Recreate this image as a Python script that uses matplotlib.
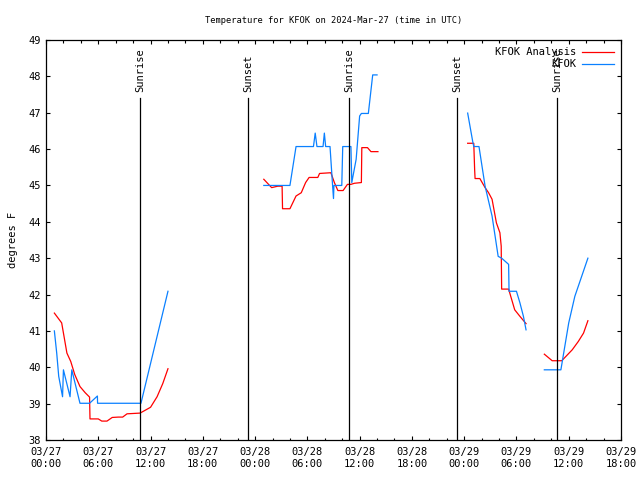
import numpy as np
import matplotlib
matplotlib.use('Agg')
import matplotlib.pyplot as plt

plt.rcParams['font.family'] = 'DejaVu Sans Mono'
plt.rcParams['font.size'] = 7.5

# -------- DATA (hours since 2024-03-27 00:00 UTC, deg F) ----------
# KFOK Analysis, one list per continuous segment
ana_hours = [
    [0.96, 1.8, 2.4, 2.84, 3.3, 3.9, 4.5, 5.0, 5.05, 6.0, 6.4, 7.0, 7.6, 8.3,
     8.8, 9.3, 10.8, 12.0, 12.75, 13.4, 14.0],
    [25.0, 25.9, 26.6, 27.1, 27.15, 28.0, 28.7, 29.3, 29.8, 30.2, 31.2, 31.4,
     32.7, 33.1, 33.5, 34.1, 34.6, 35.0, 35.4, 36.2, 36.25, 36.9, 37.3, 38.1],
    [48.4, 49.1, 49.2, 49.25, 49.8, 50.4, 50.8, 51.2, 51.7, 52.1, 52.25, 52.3,
     53.1, 53.8, 54.4, 55.1],
    [57.2, 58.1, 59.2, 59.6, 60.4, 61.1, 61.7, 62.2],
]
ana_temps = [
    [41.49, 41.22, 40.39, 40.16, 39.8, 39.47, 39.3, 39.18, 38.58, 38.58, 38.52,
     38.52, 38.62, 38.63, 38.63, 38.72, 38.74, 38.9, 39.19, 39.55, 39.96],
    [45.17, 44.94, 44.98, 44.98, 44.36, 44.36, 44.71, 44.8, 45.08, 45.22, 45.22,
     45.33, 45.35, 45.08, 44.86, 44.86, 45.03, 45.03, 45.06, 45.08, 46.04, 46.04,
     45.93, 45.93],
    [46.16, 46.16, 45.44, 45.19, 45.19, 44.94, 44.8, 44.62, 43.97, 43.7, 43.33,
     42.15, 42.15, 41.58, 41.4, 41.2],
    [40.36, 40.18, 40.18, 40.28, 40.48, 40.71, 40.94, 41.28],
]

# KFOK observations
obs_hours = [
    [0.96, 1.23, 1.46, 1.9, 2.0, 2.76, 2.96, 3.9, 5.0, 5.9, 5.92, 10.9, 14.0],
    [25.0, 28.0, 28.7, 30.7, 30.9, 31.1, 31.8, 31.95, 32.1, 32.6, 32.9, 33.0,
     33.05, 33.95, 34.06, 35.0, 35.1, 35.6, 36.0, 36.2, 37.0, 37.5, 38.0],
    [48.4, 49.0, 49.1, 49.7, 50.4, 51.2, 51.9, 52.3, 53.1, 53.15, 54.0, 54.4,
     54.8, 55.1],
    [57.2, 59.1, 60.0, 60.7, 62.2],
]
obs_temps = [
    [41.0, 40.39, 39.75, 39.19, 39.93, 39.19, 39.93, 39.01, 39.01, 39.21, 39.01,
     39.01, 42.09],
    [45.0, 45.0, 46.07, 46.07, 46.44, 46.07, 46.07, 46.44, 46.07, 46.07, 44.98,
     44.64, 45.0, 45.0, 46.07, 46.07, 45.08, 45.72, 46.91, 46.98, 46.98, 48.04,
     48.04],
    [46.99, 46.18, 46.07, 46.07, 44.98, 44.16, 43.05, 43.0, 42.83, 42.09, 42.09,
     41.77, 41.4, 41.03],
    [39.93, 39.93, 41.22, 41.95, 43.0],
]

event_hours = [10.8, 23.2, 34.8, 47.2, 58.7]
event_names = ['Sunrise', 'Sunset', 'Sunrise', 'Sunset', 'Sunrise']

tick_hours = [0, 6, 12, 18, 24, 30, 36, 42, 48, 54, 60, 66]
tick_labels = ['03/27\n00:00', '03/27\n06:00', '03/27\n12:00', '03/27\n18:00',
               '03/28\n00:00', '03/28\n06:00', '03/28\n12:00', '03/28\n18:00',
               '03/29\n00:00', '03/29\n06:00', '03/29\n12:00', '03/29\n18:00']

# -------- PLOTTING ----------------------------------------------
fig = plt.figure(figsize=(6.4, 4.8), dpi=100)
ax = fig.add_axes([46 / 640, 40 / 480, 575 / 640, 400 / 480])

for i, (h, t) in enumerate(zip(ana_hours, ana_temps)):
    ax.plot(h, t, color='#ff0000', lw=0.9,
            label='KFOK Analysis' if i == 0 else None)
for i, (h, t) in enumerate(zip(obs_hours, obs_temps)):
    ax.plot(h, t, color='#0a80ff', lw=0.9,
            label='KFOK' if i == 0 else None)

for h, name in zip(event_hours, event_names):
    ax.axvline(h, ymin=0, ymax=0.855, color='black', lw=0.9)
    ax.text(h, 47.57, name, rotation=90, ha='center', va='bottom')

ax.set_xlim(0, 66)
ax.set_ylim(38, 49)
ax.set_xticks(tick_hours)
ax.set_xticklabels(tick_labels)
ax.set_xticks(np.arange(0, 67, 2), minor=True)
ax.set_yticks(np.arange(38, 50, 1))
ax.tick_params(which='both', direction='in', top=True, right=True, width=0.8)
ax.tick_params(which='major', length=3)
ax.tick_params(which='minor', length=1.8)
ax.tick_params(axis='x', pad=5)
for s in ax.spines.values():
    s.set_linewidth(0.9)

ax.set_title('Temperature for KFOK on 2024-Mar-27 (time in UTC)',
             fontsize=6.3, pad=12)
ax.set_ylabel('degrees F', labelpad=8)
ax.legend(loc='upper right', frameon=False, markerfirst=False,
          handlelength=3.0, borderaxespad=0.3, labelspacing=0.2,
          handletextpad=0.6)

fig.savefig('out.png', dpi=100)
